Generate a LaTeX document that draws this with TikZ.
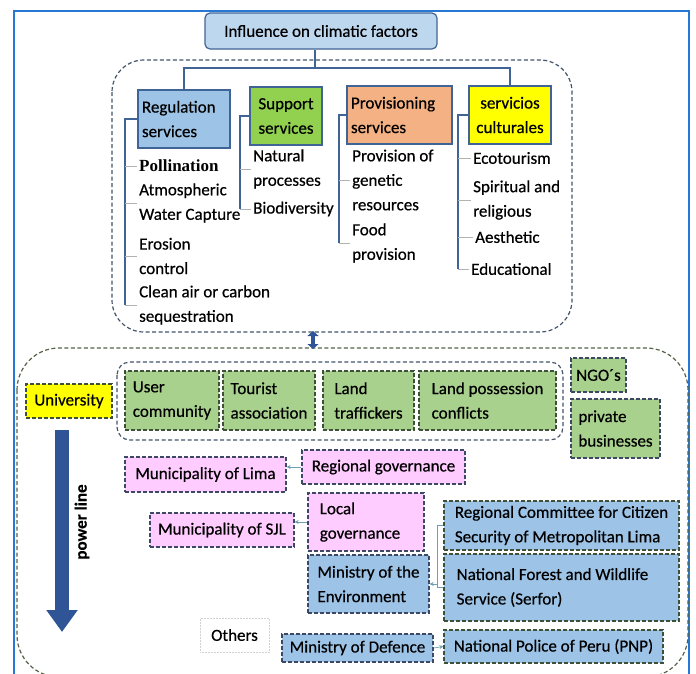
\documentclass[tikz,border=0pt]{standalone}
\usepackage{fontspec}
\setmainfont{Carlito}[FakeBold=0.5]
\newfontfamily\polfont{Liberation Serif}
\usepackage{xcolor}
\usepackage{tikz}
\usetikzlibrary{arrows.meta,calc}
\definecolor{framebl}{RGB}{38,120,210}
\definecolor{linebl}{RGB}{65,100,150}
\definecolor{darkbl}{RGB}{47,85,151}
\definecolor{dashbl}{RGB}{68,84,106}
\definecolor{dashgr}{RGB}{84,98,72}
\definecolor{bordbl}{RGB}{60,72,100}
\definecolor{bordgr}{RGB}{62,80,55}
\definecolor{topfill}{RGB}{189,215,238}
\definecolor{regfill}{RGB}{157,195,230}
\definecolor{supfill}{RGB}{146,208,80}
\definecolor{profill}{RGB}{244,177,131}
\definecolor{culfill}{RGB}{255,255,0}
\definecolor{grnfill}{RGB}{169,209,142}
\definecolor{pnkfill}{RGB}{255,204,255}
\definecolor{blufill}{RGB}{157,195,230}
\definecolor{arrowc}{RGB}{110,160,175}

\begin{document}
\begin{tikzpicture}[x=1pt,y=-1pt,
  font=\fontsize{17pt}{24.5pt}\selectfont,
  topbox/.style={draw=linebl,fill=topfill,rounded corners=5pt,line width=1.2pt,
    minimum width=232pt,minimum height=36pt},
  svc/.style={draw=linebl,line width=1.6pt,inner xsep=4pt,inner ysep=2pt,minimum height=58pt},
  item/.style={anchor=west,inner sep=2pt,align=left},
  link/.style={draw=linebl,line width=1.6pt},
  tick/.style={draw=gray!60,line width=.6pt},
  area/.style={dash pattern=on 4pt off 2.5pt,line width=1.2pt,rounded corners=#1},
  actor/.style={draw=#1,dash pattern=on 4pt off 2pt,line width=1.3pt,
    inner xsep=5pt,inner ysep=1pt,align=left},
  con/.style={draw=arrowc,line width=.7pt,-{Stealth[length=4pt,width=4pt]}},
  power/.style={draw=darkbl,line width=14pt,-{Triangle[width=30pt,length=22pt]}},
  dblarr/.style={draw=darkbl,line width=3.5pt,{Triangle[width=11pt,length=5pt]}-{Triangle[width=11pt,length=5pt]}}]

\useasboundingbox (0,0) rectangle (696,673);
\clip (0,0) rectangle (696,673);

% frame and areas
\draw[framebl,line width=2pt] (14,700) -- (14,11) -- (689,11) -- (689,700);
\draw[area=32pt,draw=dashbl] (112,60) rectangle (572,332);
\draw[area=42pt,draw=dashgr] (17,348) rectangle (688,677);
\draw[area=13pt,draw=dashbl] (117,362) rectangle (563,440);

% ecosystem services
\node[topbox] (infl) at (321,31) {Influence on climatic factors};
\coordinate (hub) at (315,68);

\node[svc,fill=regfill,text width=84pt,align=left] (reg) at (184,119) {Regulation\\services};
\node[svc,fill=supfill,text width=64pt,align=center] (sup) at (286,116) {Support\\services};
\node[svc,fill=profill,text width=97pt,align=left] (pro) at (399.5,115) {Provisioning\\services};
\node[svc,fill=culfill,text width=74pt,align=center] (cul) at (510,115) {servicios\\culturales};

\draw[link] (infl.south -| hub) -- (hub);
\draw[link] (reg.north) |- (hub) -| (cul.north);

\node[item] (pol) at (137,166) {\polfont\bfseries Pollination};
\node[item] (atm) at (137,203) {Atmospheric\\Water Capture};
\node[item] (ero) at (137,256) {Erosion\\control};
\node[item] (cle) at (137,305) {Clean air or carbon\\sequestration};

\node[item] (nat) at (251,169) {Natural\\processes};
\node[item] (bio) at (251,209) {Biodiversity};

\node[item] (gen) at (350,180) {Provision of\\genetic\\resources};
\node[item] (food) at (350,243) {Food\\provision};

\node[item] (eco) at (471,158) {Ecotourism};
\node[item] (spi) at (471,200) {Spiritual and\\religious};
\node[item] (aes) at (473,237) {Aesthetic};
\node[item] (edu) at (469,269) {Educational};

\coordinate (rb) at (125,0);
\coordinate (sb) at (240,0);
\coordinate (pb) at (339,0);
\coordinate (cb) at (458,0);

\draw[link] (reg.west) -| (cle.west -| rb);
\draw[link] (sup.west) -| (bio.west -| sb);
\draw[link] (pro.west) -| (food.west -| pb);
\draw[link] (cul.west) -| (edu.west -| cb);
\foreach \n in {pol,atm,ero,cle} \draw[tick] (\n.west -| rb) -- (\n.west);
\foreach \n in {nat,bio} \draw[tick] (\n.west -| sb) -- (\n.west);
\foreach \n in {gen,food} \draw[tick] (\n.west -| pb) -- (\n.west);
\foreach \n in {eco,spi,aes,edu} \draw[tick] (\n.west -| cb) -- (\n.west);

\coordinate (upbot) at (313,331);
\coordinate (lowtop) at (313,349);
\draw[dblarr] (upbot) -- (lowtop);

% actors
\node[actor=bordgr,fill=culfill,minimum width=86pt,minimum height=34pt] (uni) at (69,401) {University};
\node[actor=bordgr,fill=grnfill,minimum width=94pt,minimum height=59pt] (usr) at (172,400.5) {User\\community};
\node[actor=bordgr,fill=grnfill,minimum width=92pt,minimum height=59pt] (tour) at (269,400.5) {Tourist\\association};
\node[actor=bordgr,fill=grnfill,minimum width=91pt,minimum height=59pt] (traf) at (368.5,400.5) {Land\\traffickers};
\node[actor=bordgr,fill=grnfill,minimum width=137pt,minimum height=59pt] (poss) at (487.5,400.5) {Land possession\\conflicts};
\node[actor=bordbl,fill=grnfill,minimum width=55pt,minimum height=34pt] (ngo) at (598.5,375) {NGO´s};
\node[actor=bordbl,fill=grnfill,minimum width=89pt,minimum height=59pt] (priv) at (615.5,428.5) {private\\businesses};

\node[actor=bordbl,fill=pnkfill,minimum width=161pt,minimum height=35pt] (lima) at (205.5,474.5) {Municipality of Lima};
\node[actor=bordbl,fill=pnkfill,minimum width=163pt,minimum height=34pt] (regg) at (383.5,467) {Regional governance};
\node[actor=bordbl,fill=pnkfill,minimum width=144pt,minimum height=34pt] (sjl) at (222,530) {Municipality of SJL};
\node[actor=bordbl,fill=pnkfill,minimum width=116pt,minimum height=58pt] (locg) at (366,522) {Local\\governance\hspace*{12pt}};

\node[actor=bordbl,fill=blufill,minimum width=121pt,minimum height=58pt] (envm) at (368.5,584) {Ministry of the\\Environment};
\node[actor=bordgr,fill=blufill,minimum width=235pt,minimum height=49pt] (rcom) at (561.5,525.5) {Regional Committee for Citizen\\Security of Metropolitan Lima};
\node[actor=bordgr,fill=blufill,minimum width=235pt,minimum height=67pt] (serf) at (561.5,587.5) {National Forest and Wildlife\hspace*{18pt}\\Service (Serfor)};
\node[draw=gray!35,densely dotted,line width=.5pt,fill=white,minimum width=69pt,minimum height=34pt] (oth) at (234.5,635) {Others};
\node[actor=bordbl,fill=blufill,minimum width=151pt,minimum height=28pt] (def) at (357.5,648) {Ministry of Defence};
\node[actor=bordgr,fill=blufill,minimum width=219pt,minimum height=33pt] (pnp) at (553.5,646.5) {National Police of Peru (PNP)};

\draw[con] (regg.west) -- (regg.west -| lima.east);
\draw[con] (locg.west) -- (locg.west -| sjl.east);
\coordinate (eb) at (437,0);
\draw[con] (envm.east -| eb) -- (envm.east);
\draw[con,-] (rcom.west) -- (rcom.west -| eb) -- (serf.west -| eb) -- (serf.west);
\draw[con] (def.east) -- (pnp.west);

% power line
\coordinate (pwtop) at (62,430);
\coordinate (pwbot) at (62,632);
\draw[power] (pwtop) -- (pwbot);
\node[rotate=90,font=\fontsize{17pt}{20pt}\selectfont\bfseries] (pwl) at (82,522) {power line};
\end{tikzpicture}
\end{document}
